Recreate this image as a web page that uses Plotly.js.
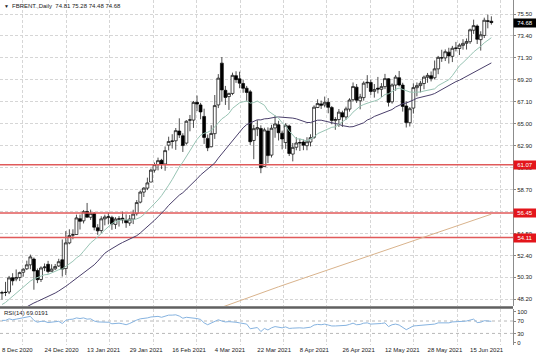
<!DOCTYPE html>
<html>
<head>
<meta charset="utf-8">
<script src="https://cdn.plot.ly/plotly-3.0.1.min.js"></script>
<style>html,body{margin:0;padding:0;background:#fff;}#chart{width:536px;height:357px;}</style>
</head>
<body>
<div id="chart"></div>
<script>
// ---- data (bar index 0 = 8 Dec 2020 ... 138 = 23 Jun 2021) ----
const barIdx = Array.from({length: 139}, (_, i) => i);

const opens = [48.79,48.86,48.90,50.26,50.15,50.29,50.79,51.12,51.50,52.05,
 50.95,50.10,51.22,51.55,50.88,51.12,51.39,51.98,51.14,53.60,
 54.34,54.40,55.92,55.71,56.61,56.05,56.42,55.05,54.78,55.90,
 56.02,56.04,55.37,55.85,55.96,55.76,55.50,55.88,56.40,57.50,
 58.46,58.84,59.42,60.56,61.09,61.50,61.15,62.95,63.30,63.37,
 64.30,63.85,63.15,65.34,65.35,67.05,66.80,65.70,63.60,62.80,
 64.05,66.80,70.80,68.20,67.60,67.90,69.60,69.30,68.85,68.40,
 68.05,63.40,64.50,64.55,60.90,64.30,62.00,64.60,64.90,64.10,
 63.20,64.78,62.10,62.75,63.15,63.25,62.90,63.25,63.70,66.55,
 66.90,66.80,67.05,66.55,65.30,65.40,66.05,65.65,66.40,67.30,
 68.50,67.20,67.50,68.90,68.95,68.10,68.40,68.30,68.55,69.30,
 67.10,68.70,69.40,68.70,66.70,65.10,66.50,68.45,68.65,68.85,
 69.45,69.60,69.40,70.25,71.30,71.30,71.85,71.45,72.25,72.20,
 72.50,72.70,72.85,73.95,74.35,73.05,73.45,74.85,74.81];

const highs = [49.02,49.87,50.44,50.70,51.06,50.85,51.17,51.90,52.48,52.20,
 51.15,51.36,51.63,51.88,51.55,51.58,52.08,53.93,54.73,54.90,
 54.90,56.30,56.31,56.75,57.42,56.78,56.55,55.39,56.15,56.30,
 56.50,56.20,56.06,56.16,56.59,56.33,56.26,56.77,57.70,58.61,
 58.93,59.84,60.71,61.29,61.76,61.64,62.83,63.76,64.00,64.59,
 65.52,64.09,65.34,65.84,67.18,67.70,67.00,66.44,63.97,64.86,
 67.75,69.75,71.38,68.62,67.97,69.89,70.02,69.98,69.22,68.62,
 68.24,64.88,65.34,64.85,64.62,64.65,64.90,65.79,65.28,64.34,
 65.05,64.91,63.16,63.71,63.56,63.49,63.71,63.99,66.76,67.34,
 67.22,67.60,67.45,66.70,65.63,66.41,66.25,66.63,67.44,68.95,
 68.80,67.86,69.06,69.65,69.21,68.80,69.48,68.89,69.77,69.36,
 68.86,69.67,70.05,68.92,67.13,66.60,68.87,68.95,69.10,69.61,
 69.86,70.00,71.05,71.49,72.08,72.11,72.27,72.45,72.83,72.69,
 73.09,73.16,74.10,74.96,74.50,73.85,75.15,75.44,75.28];

const lows = [48.17,48.51,48.70,49.53,49.93,49.95,50.37,51.00,51.08,49.12,
 49.75,49.86,50.90,50.68,50.85,51.00,51.30,50.38,50.53,53.47,
 53.95,54.38,54.88,55.46,56.03,55.80,54.80,54.37,54.55,55.28,
 55.37,54.85,54.94,55.16,55.46,55.04,55.23,55.40,56.21,57.38,
 57.99,58.65,59.41,60.33,60.54,60.66,60.50,62.45,62.63,62.50,
 63.64,62.30,63.00,64.28,64.60,66.21,65.43,63.07,62.38,62.74,
 63.55,66.50,67.14,66.80,66.32,67.74,68.91,68.40,67.96,67.15,
 62.97,61.61,63.82,60.27,60.88,61.23,61.77,63.66,63.40,62.55,
 62.60,61.91,61.40,62.46,62.39,62.47,62.46,62.83,63.55,66.50,
 66.42,66.57,66.00,64.95,64.42,64.70,64.70,65.37,66.16,67.13,
 66.99,66.38,67.21,68.42,67.75,67.50,67.90,67.57,68.31,66.65,
 66.92,68.16,68.57,66.16,64.64,64.74,65.98,67.62,68.00,68.30,
 68.92,69.05,69.24,69.74,70.92,71.00,70.76,70.90,71.92,71.58,
 72.09,72.10,72.64,73.60,72.63,72.00,73.20,74.13,74.48];

const closes = [48.84,48.86,50.25,49.97,50.29,50.76,51.08,51.50,52.26,50.91,
 50.08,51.20,51.29,50.86,51.09,51.34,51.80,51.09,53.60,54.30,
 54.38,55.99,55.66,56.58,56.06,56.42,55.10,54.75,55.90,56.08,
 56.10,55.41,55.88,55.91,55.81,55.53,55.88,56.35,57.46,58.46,
 58.84,59.34,60.56,61.09,61.47,61.14,62.43,63.30,63.35,64.34,
 63.93,62.91,65.24,65.37,67.04,66.88,66.13,63.69,62.70,64.07,
 66.74,69.36,68.24,67.52,67.90,69.63,69.22,68.88,68.39,68.00,
 63.28,64.53,64.62,60.79,64.41,61.95,64.57,64.98,64.14,63.54,
 64.86,62.15,62.74,63.16,63.20,62.95,63.28,63.67,66.58,66.94,
 66.77,67.05,66.57,65.32,65.40,66.11,65.65,66.42,67.27,68.56,
 67.25,67.56,68.88,68.96,68.09,68.28,68.32,68.55,69.32,67.05,
 68.71,69.46,68.71,66.66,65.11,66.44,68.46,68.65,68.87,69.46,
 69.63,69.32,70.25,71.35,71.31,71.89,71.49,72.22,72.22,72.52,
 72.69,72.86,73.99,74.39,73.08,73.51,74.90,74.81,74.68];

// fast moving average (light green line)
const maFast = [47.7,47.9,48.2,48.5,48.8,49.1,49.4,49.7,49.95,50.15,50.3,50.45,50.55,50.58,
 50.74,50.92,51.03,51.11,51.35,51.60,51.84,52.16,52.40,52.80,53.23,53.60,53.88,54.15,54.50,54.84,
 55.14,55.45,55.62,55.73,55.83,55.80,55.82,55.80,55.90,56.04,56.31,56.64,56.97,57.33,57.71,58.12,58.59,59.12,59.66,60.29,
 60.86,61.33,61.89,62.38,62.97,63.50,63.90,64.09,64.18,64.38,64.69,65.13,65.47,65.70,65.99,66.47,66.75,67.00,67.10,67.18,
 66.97,67.03,67.17,66.94,66.77,66.24,65.98,65.80,65.53,65.09,64.78,64.30,63.90,63.55,63.55,63.43,63.34,63.54,63.70,64.05,
 64.21,64.36,64.53,64.66,64.70,64.98,65.19,65.42,65.71,66.11,66.40,66.68,66.84,66.98,67.08,67.17,67.29,67.52,67.80,67.87,
 68.09,68.30,68.41,68.27,68.12,68.04,68.01,67.99,68.04,68.13,68.22,68.28,68.34,68.65,68.83,69.01,69.21,69.60,70.11,70.55,
 70.85,71.15,71.51,71.87,72.11,72.41,72.74,72.99,73.23];

// slower moving average (dark purple line)
const maSlow = [null,null,null,null,null,null,47.3,47.5,47.7,47.85,
 48.0,48.15,48.3,48.45,48.6,48.8,49.0,49.2,49.45,49.7,
 49.95,50.2,50.45,50.7,50.95,51.2,51.5,51.85,52.25,52.61,
 52.85,53.07,53.26,53.46,53.64,53.80,53.96,54.12,54.29,54.55,
 54.84,55.11,55.42,55.76,56.10,56.43,56.79,57.19,57.52,57.85,
 58.17,58.40,58.72,59.01,59.38,59.73,60.10,60.39,60.62,60.89,
 61.24,61.71,62.12,62.51,62.91,63.38,63.82,64.24,64.61,64.92,
 65.07,65.24,65.38,65.37,65.47,65.49,65.57,65.62,65.65,65.62,
 65.65,65.63,65.54,65.47,65.34,65.21,65.12,65.12,65.25,65.34,
 65.34,65.26,65.21,65.14,65.05,64.94,64.82,64.73,64.70,64.72,
 64.85,64.95,65.09,65.36,65.49,65.70,65.82,65.94,66.11,66.23,
 66.36,66.60,66.80,66.92,66.98,67.10,67.27,67.44,67.51,67.60,
 67.69,67.77,67.89,68.09,68.29,68.48,68.68,68.87,69.03,69.17,
 69.35,69.52,69.69,69.88,70.04,70.22,70.44,70.64,70.82];

// long moving average (tan line), read at sampled bars
const maLongIdx = [60,66,72,78,84,90,96,102,108,114,120,126,132,138];
const maLongVal = [47.2,47.95,48.7,49.4,50.1,50.8,51.5,52.2,52.9,53.55,54.25,54.95,55.65,56.35];

// RSI(14)
const rsi = [72,72,77,74,76,78,80,82,85,72,
 66,69,69,65,66,67,69,62,72,75,
 76,80,78,80,76,77,70,67,66,66,
 66,61,63,63,61,58,62,68,73,77,
 78,80,83,84,85,82,85,89,89,90,
 86,79,82,81,80,78,75,64,58,63,
 69,74,70,67,68,68,66,64,62,60,
 45,48,49,36,46,41,48,52,50,48,
 51,46,47,48,48,47,48,50,57,59,
 58,60,57,54,54,55,54,56,59,63,
 58,59,63,64,60,60,61,62,64,52,
 58,60,57,50,42,48,54,55,56,57,
 58,57,60,64,64,66,64,67,67,68,
 69,70,74,76,65,66,71,70,69.0191];

const levels = [61.07, 56.45, 54.11];
const lastPrice = 74.68;

const dateIdx = [0,12,24,36,48,60,72,84,96,108,120,132];
const dateLabels = ['8 Dec 2020','24 Dec 2020','13 Jan 2021','29 Jan 2021','16 Feb 2021','4 Mar 2021',
  '22 Mar 2021','8 Apr 2021','26 Apr 2021','12 May 2021','28 May 2021','15 Jun 2021'];
const priceTicks = [48.20,50.30,52.40,54.50,56.60,58.70,60.80,62.90,65.00,67.10,69.20,71.30,73.40,75.50];
const rsiTicks = [0,30,70,100];
const titleText = 'FBRENT.,Daily  74.81 75.28 74.48 74.68';
const rsiLabel = 'RSI(14) 69.0191';

// ---- chart ----
const FONT = 'Liberation Sans, Arial, sans-serif';
const X_RANGE = [-0.56, 144.1];
const gridX = [];
for (let k = 0; k < 12; k++) gridX.push(5.92 + 12.24 * k);

const traces = [];
// horizontal level lines, drawn through the axes
levels.forEach(v => traces.push({type: 'scatter', mode: 'lines', x: X_RANGE, y: [v, v],
  xaxis: 'x', yaxis: 'y', line: {color: '#e05a5a', width: 1.5}, hoverinfo: 'skip', cliponaxis: true}));
traces.push(
  {type: 'candlestick', x: barIdx, open: opens, high: highs, low: lows, close: closes,
   xaxis: 'x', yaxis: 'y', whiskerwidth: 0,
   increasing: {line: {color: '#000', width: 0.7}, fillcolor: '#ffffff'},
   decreasing: {line: {color: '#000', width: 0.7}, fillcolor: '#000000'},
   hoverinfo: 'skip'},
  {type: 'scatter', mode: 'lines', x: maLongIdx, y: maLongVal, xaxis: 'x', yaxis: 'y',
   line: {color: '#d9b38c', width: 1}, hoverinfo: 'skip'},
  {type: 'scatter', mode: 'lines', x: barIdx, y: maSlow, xaxis: 'x', yaxis: 'y',
   line: {color: '#4a3f6b', width: 1}, hoverinfo: 'skip'},
  {type: 'scatter', mode: 'lines', x: barIdx, y: maFast, xaxis: 'x', yaxis: 'y',
   line: {color: '#98c4b4', width: 1}, hoverinfo: 'skip'},
  {type: 'scatter', mode: 'lines', x: barIdx, y: rsi, xaxis: 'x', yaxis: 'y2',
   line: {color: '#86b3e0', width: 1}, hoverinfo: 'skip'}
);

const shapes = [];
[30, 70].forEach(v => shapes.push({type: 'line', xref: 'paper', x0: 0, x1: 1, yref: 'y2', y0: v, y1: v,
  line: {color: '#b8b8b8', width: 1, dash: 'dot'}, layer: 'below'}));
shapes.push({type: 'line', xref: 'paper', x0: 0, x1: 1, yref: 'paper', y0: 0.1087, y1: 0.1087,
  line: {color: '#606060', width: 2.5}});

const annotations = [
  {xref: 'paper', yref: 'paper', x: 0.004, y: 0.983, xanchor: 'left', yanchor: 'middle', showarrow: false,
   text: '▼', font: {family: FONT, size: 5, color: '#222'}},
  {xref: 'paper', yref: 'paper', x: 0.019, y: 0.983, xanchor: 'left', yanchor: 'middle', showarrow: false,
   text: titleText, font: {family: FONT, size: 6, color: '#222'}},
  {xref: 'paper', yref: 'paper', x: 0.004, y: 0.093, xanchor: 'left', yanchor: 'middle', showarrow: false,
   text: rsiLabel, font: {family: FONT, size: 6, color: '#222'}},
  {xref: 'paper', yref: 'y', x: 1, y: lastPrice, xanchor: 'left', yanchor: 'middle', showarrow: false,
   text: lastPrice.toFixed(2), bgcolor: '#000', width: 21, height: 7, borderpad: 0.5,
   font: {family: FONT, size: 6, color: '#fff'}}
];
levels.forEach(v => annotations.push({xref: 'paper', yref: 'y', x: 1, y: v, xanchor: 'left', yanchor: 'middle',
  showarrow: false, text: v.toFixed(2), bgcolor: '#e3151b', width: 21, height: 7, borderpad: 0.5,
  font: {family: FONT, size: 6, color: '#fff'}}));

const layout = {
  width: 536, height: 357,
  margin: {l: 0, r: 23, t: 0, b: 12, pad: 0},
  paper_bgcolor: '#ffffff', plot_bgcolor: '#ffffff',
  showlegend: false,
  boxgap: 0.1, boxgroupgap: 0.1,
  font: {family: FONT, size: 6, color: '#222'},
  xaxis: {
    anchor: 'y2', range: X_RANGE, rangeslider: {visible: false},
    tickmode: 'array', tickvals: dateIdx, ticktext: dateLabels, tickangle: 0, automargin: false,
    ticklabelposition: 'outside right', ticks: '', showgrid: false, zeroline: false, showline: false,
    tickfont: {family: FONT, size: 6, color: '#222'},
    minor: {tickmode: 'array', tickvals: gridX, showgrid: true, gridcolor: '#d6d6d6', griddash: '3px,2px', gridwidth: 1, ticks: ''}
  },
  yaxis: {
    domain: [0.113, 1], range: [47.56, 76.84], side: 'right', automargin: false,
    tickmode: 'array', tickvals: priceTicks, ticktext: priceTicks.map(v => v.toFixed(2)),
    ticks: 'outside', ticklen: 2, tickcolor: '#888',
    showgrid: true, gridcolor: '#d6d6d6', griddash: '3px,2px', gridwidth: 1, zeroline: false,
    showline: true, mirror: true, linecolor: '#8c8c8c', linewidth: 1,
    tickfont: {family: FONT, size: 6, color: '#222'}
  },
  yaxis2: {
    domain: [0, 0.1043], range: [-7.4, 108.7], side: 'right', automargin: false,
    tickmode: 'array', tickvals: rsiTicks, ticktext: rsiTicks.map(String),
    ticks: 'outside', ticklen: 2, tickcolor: '#888',
    showgrid: false, zeroline: false,
    showline: true, mirror: true, linecolor: '#8c8c8c', linewidth: 1,
    tickfont: {family: FONT, size: 6, color: '#222'}
  },
  shapes: shapes,
  annotations: annotations
};

Plotly.newPlot('chart', traces, layout, {displayModeBar: false, staticPlot: true});
</script>
</body>
</html>
